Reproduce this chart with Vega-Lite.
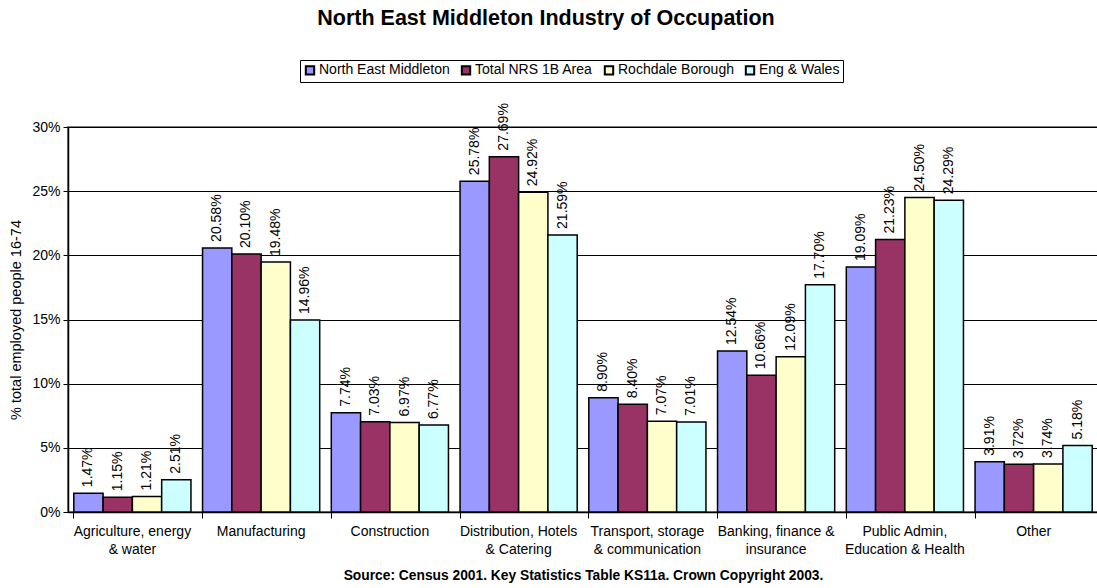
{
  "$schema": "https://vega.github.io/schema/vega-lite/v6.json",
  "autosize": {"type": "none"},
  "width": 1030,
  "height": 385,
  "padding": {"left": 68, "top": 127, "right": 0, "bottom": 76},
  "background": "white",
  "config": {
    "font": "Liberation Sans",
    "view": {"stroke": "#808080", "strokeWidth": 2}
  },
  "title": {
    "text": "North East Middleton Industry of Occupation",
    "fontSize": 21.5,
    "fontWeight": "bold",
    "color": "black",
    "anchor": "middle",
    "frame": "group",
    "dx": -37,
    "offset": 30
  },
  "data": {
    "values": [
      {"cat": "Agriculture, energy & water", "series": "North East Middleton", "v": 0.0147},
      {"cat": "Agriculture, energy & water", "series": "Total NRS 1B Area", "v": 0.0115},
      {"cat": "Agriculture, energy & water", "series": "Rochdale Borough", "v": 0.0121},
      {"cat": "Agriculture, energy & water", "series": "Eng & Wales", "v": 0.0251},
      {"cat": "Manufacturing", "series": "North East Middleton", "v": 0.2058},
      {"cat": "Manufacturing", "series": "Total NRS 1B Area", "v": 0.2010},
      {"cat": "Manufacturing", "series": "Rochdale Borough", "v": 0.1948},
      {"cat": "Manufacturing", "series": "Eng & Wales", "v": 0.1496},
      {"cat": "Construction", "series": "North East Middleton", "v": 0.0774},
      {"cat": "Construction", "series": "Total NRS 1B Area", "v": 0.0703},
      {"cat": "Construction", "series": "Rochdale Borough", "v": 0.0697},
      {"cat": "Construction", "series": "Eng & Wales", "v": 0.0677},
      {"cat": "Distribution, Hotels & Catering", "series": "North East Middleton", "v": 0.2578},
      {"cat": "Distribution, Hotels & Catering", "series": "Total NRS 1B Area", "v": 0.2769},
      {"cat": "Distribution, Hotels & Catering", "series": "Rochdale Borough", "v": 0.2492},
      {"cat": "Distribution, Hotels & Catering", "series": "Eng & Wales", "v": 0.2159},
      {"cat": "Transport, storage & communication", "series": "North East Middleton", "v": 0.0890},
      {"cat": "Transport, storage & communication", "series": "Total NRS 1B Area", "v": 0.0840},
      {"cat": "Transport, storage & communication", "series": "Rochdale Borough", "v": 0.0707},
      {"cat": "Transport, storage & communication", "series": "Eng & Wales", "v": 0.0701},
      {"cat": "Banking, finance & insurance", "series": "North East Middleton", "v": 0.1254},
      {"cat": "Banking, finance & insurance", "series": "Total NRS 1B Area", "v": 0.1066},
      {"cat": "Banking, finance & insurance", "series": "Rochdale Borough", "v": 0.1209},
      {"cat": "Banking, finance & insurance", "series": "Eng & Wales", "v": 0.1770},
      {"cat": "Public Admin, Education & Health", "series": "North East Middleton", "v": 0.1909},
      {"cat": "Public Admin, Education & Health", "series": "Total NRS 1B Area", "v": 0.2123},
      {"cat": "Public Admin, Education & Health", "series": "Rochdale Borough", "v": 0.2450},
      {"cat": "Public Admin, Education & Health", "series": "Eng & Wales", "v": 0.2429},
      {"cat": "Other", "series": "North East Middleton", "v": 0.0391},
      {"cat": "Other", "series": "Total NRS 1B Area", "v": 0.0372},
      {"cat": "Other", "series": "Rochdale Borough", "v": 0.0374},
      {"cat": "Other", "series": "Eng & Wales", "v": 0.0518}
    ]
  },
  "encoding": {
    "x": {
      "field": "cat",
      "type": "nominal",
      "sort": null,
      "scale": {"paddingInner": 0.09, "paddingOuter": 0.045},
      "axis": {
        "title": "Source: Census 2001. Key Statistics Table KS11a. Crown Copyright 2003.",
        "titleFontSize": 13.8,
        "titleFontWeight": "bold",
        "titleColor": "black",
        "titlePadding": 12,
        "labelAngle": 0,
        "labelFontSize": 14,
        "labelColor": "black",
        "labelPadding": 6,
        "labelLineHeight": 18,
        "labelLimit": 200,
        "labelExpr": "{'Agriculture, energy & water': ['Agriculture, energy', '& water'], 'Distribution, Hotels & Catering': ['Distribution, Hotels', '& Catering'], 'Transport, storage & communication': ['Transport, storage', '& communication'], 'Banking, finance & insurance': ['Banking, finance &', 'insurance'], 'Public Admin, Education & Health': ['Public Admin,', 'Education & Health']}[datum.label] || datum.label",
        "bandPosition": 0,
        "tickColor": "black",
        "tickSize": 6,
        "domainColor": "black",
        "domainWidth": 1.5
      }
    },
    "xOffset": {
      "field": "series",
      "type": "nominal",
      "sort": ["North East Middleton", "Total NRS 1B Area", "Rochdale Borough", "Eng & Wales"],
      "scale": {"paddingInner": 0, "paddingOuter": 0}
    },
    "y": {
      "field": "v",
      "type": "quantitative",
      "scale": {"domain": [0, 0.3]},
      "axis": {
        "title": "% total employed people 16-74",
        "titleFontSize": 14.5,
        "titleFontWeight": "normal",
        "titleColor": "black",
        "titlePadding": 8,
        "format": ".0%",
        "values": [0, 0.05, 0.1, 0.15, 0.2, 0.25, 0.3],
        "labelFontSize": 14,
        "labelColor": "black",
        "labelPadding": 3,
        "tickColor": "black",
        "tickSize": 5,
        "domainColor": "black",
        "domainWidth": 1.5,
        "grid": true,
        "gridColor": "black",
        "gridWidth": 1
      }
    }
  },
  "layer": [
    {
      "mark": {"type": "bar", "stroke": "black", "strokeWidth": 1.5, "opacity": 1},
      "encoding": {
        "color": {
          "field": "series",
          "type": "nominal",
          "sort": ["North East Middleton", "Total NRS 1B Area", "Rochdale Borough", "Eng & Wales"],
          "scale": {
            "domain": ["North East Middleton", "Total NRS 1B Area", "Rochdale Borough", "Eng & Wales"],
            "range": ["#9999FF", "#993366", "#FFFFCC", "#CCFFFF"]
          },
          "legend": {
            "title": null,
            "orient": "none",
            "legendX": 232,
            "legendY": -67,
            "direction": "horizontal",
            "strokeColor": "black",
            "padding": 3,
            "symbolType": "square",
            "symbolSize": 70,
            "symbolStrokeColor": "black",
            "symbolStrokeWidth": 2,
            "symbolOpacity": 1,
            "labelFontSize": 14,
            "labelColor": "black",
            "labelOffset": 2,
            "columnPadding": 7
          }
        }
      }
    },
    {
      "mark": {"type": "text", "angle": -90, "align": "left", "baseline": "middle", "dx": 6, "fontSize": 14, "color": "black"},
      "encoding": {
        "text": {"field": "v", "type": "quantitative", "format": ".2%"}
      }
    }
  ]
}
